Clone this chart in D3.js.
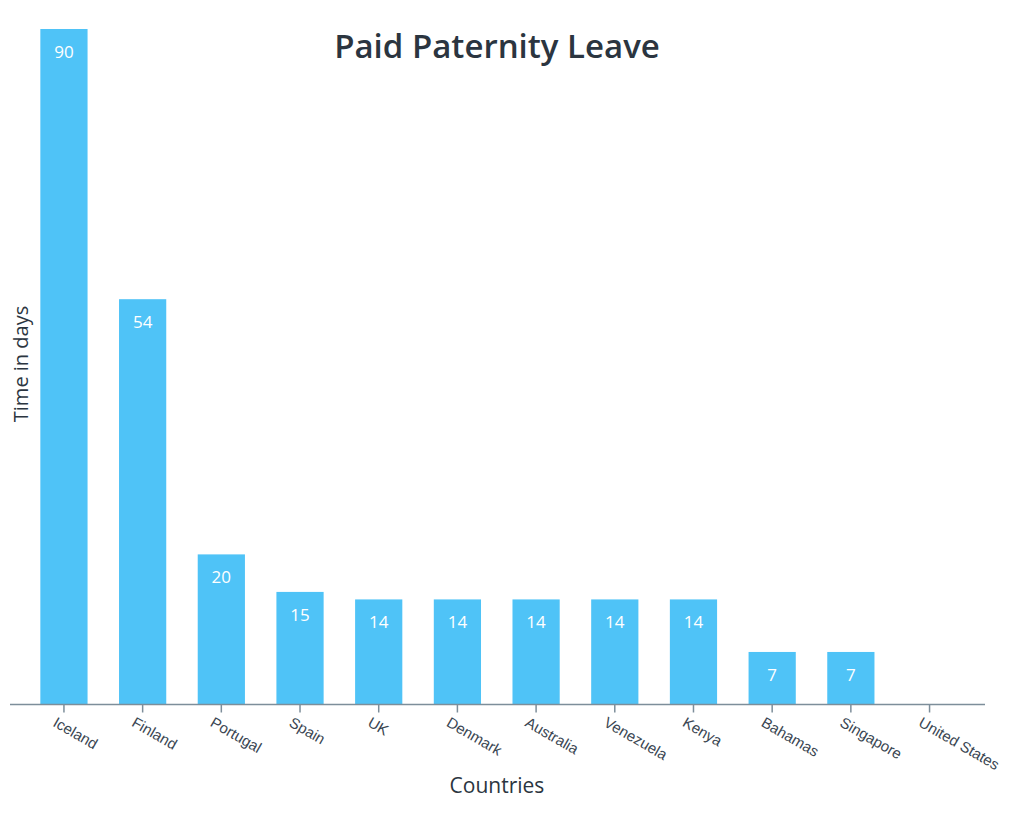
<!DOCTYPE html>
<html>
<head>
<meta charset="utf-8">
<script src="https://cdn.jsdelivr.net/npm/d3@7"></script>
<style>
  html, body { margin: 0; padding: 0; background: #fff; }
  svg { display: block; }
</style>
</head>
<body>
<svg id="chart" width="1021" height="823"></svg>
<script>
const countries = ["Iceland", "Finland", "Portugal", "Spain", "UK", "Denmark", "Australia", "Venezuela", "Kenya", "Bahamas", "Singapore", "United States"];
const days = [90, 54, 20, 15, 14, 14, 14, 14, 14, 7, 7, 0];
const titleText = "Paid Paternity Leave";
const xTitle = "Countries";
const yTitle = "Time in days";

const svg = d3.select("#chart");
const baseY = 704.5;

const x = d3.scaleBand()
  .domain(countries)
  .range([24.6, 968.9])
  .paddingInner(0.4)
  .paddingOuter(0.2);

const y = d3.scaleLinear()
  .domain([0, 90])
  .range([baseY, 29]);

const data = countries.map((c, i) => ({ c, v: days[i] }));

// bars
svg.append("g").selectAll("rect")
  .data(data)
  .join("rect")
  .attr("x", d => x(d.c))
  .attr("y", d => y(d.v))
  .attr("width", x.bandwidth())
  .attr("height", d => baseY - y(d.v))
  .attr("fill", "#4fc3f7");

// value labels
svg.append("g").selectAll("text")
  .data(data.filter(d => d.v > 0))
  .join("text")
  .attr("x", d => x(d.c) + x.bandwidth() / 2)
  .attr("y", d => y(d.v) + 29)
  .attr("text-anchor", "middle")
  .attr("fill", "#ffffff")
  .attr("font-family", "Open Sans, sans-serif")
  .attr("font-size", 17)
  .text(d => d.v);

// x axis
const axisColor = "#7d8e9a";
svg.append("line")
  .attr("x1", 10).attr("x2", 985)
  .attr("y1", baseY).attr("y2", baseY)
  .attr("stroke", axisColor)
  .attr("stroke-width", 1.6);

const xAxis = d3.axisBottom(x).tickSize(8).tickSizeOuter(0);
const gx = svg.append("g")
  .attr("transform", `translate(0,${baseY})`)
  .call(xAxis);
gx.select(".domain").remove();
gx.selectAll(".tick line").attr("stroke", axisColor).attr("stroke-width", 1.5);
gx.selectAll(".tick text")
  .attr("font-family", "Liberation Sans, Arial, sans-serif")
  .attr("font-size", 15)
  .attr("fill", "#3a4652")
  .attr("text-anchor", "start")
  .attr("x", 0).attr("y", 0).attr("dy", 0)
  .attr("transform", "translate(-12,21) rotate(30)");

// title
svg.append("text")
  .attr("x", 497)
  .attr("y", 58)
  .attr("text-anchor", "middle")
  .attr("font-family", "Open Sans, sans-serif")
  .attr("font-weight", 600)
  .attr("font-size", 33)
  .attr("fill", "#2b3540")
  .text(titleText);

// x title
svg.append("text")
  .attr("x", 497)
  .attr("y", 793)
  .attr("text-anchor", "middle")
  .attr("font-family", "Open Sans, sans-serif")
  .attr("font-size", 21)
  .attr("fill", "#2b3540")
  .text(xTitle);

// y title
svg.append("text")
  .attr("transform", "translate(28,364) rotate(-90)")
  .attr("text-anchor", "middle")
  .attr("font-family", "Open Sans, sans-serif")
  .attr("font-size", 20)
  .attr("fill", "#2b3540")
  .text(yTitle);
</script>
</body>
</html>
